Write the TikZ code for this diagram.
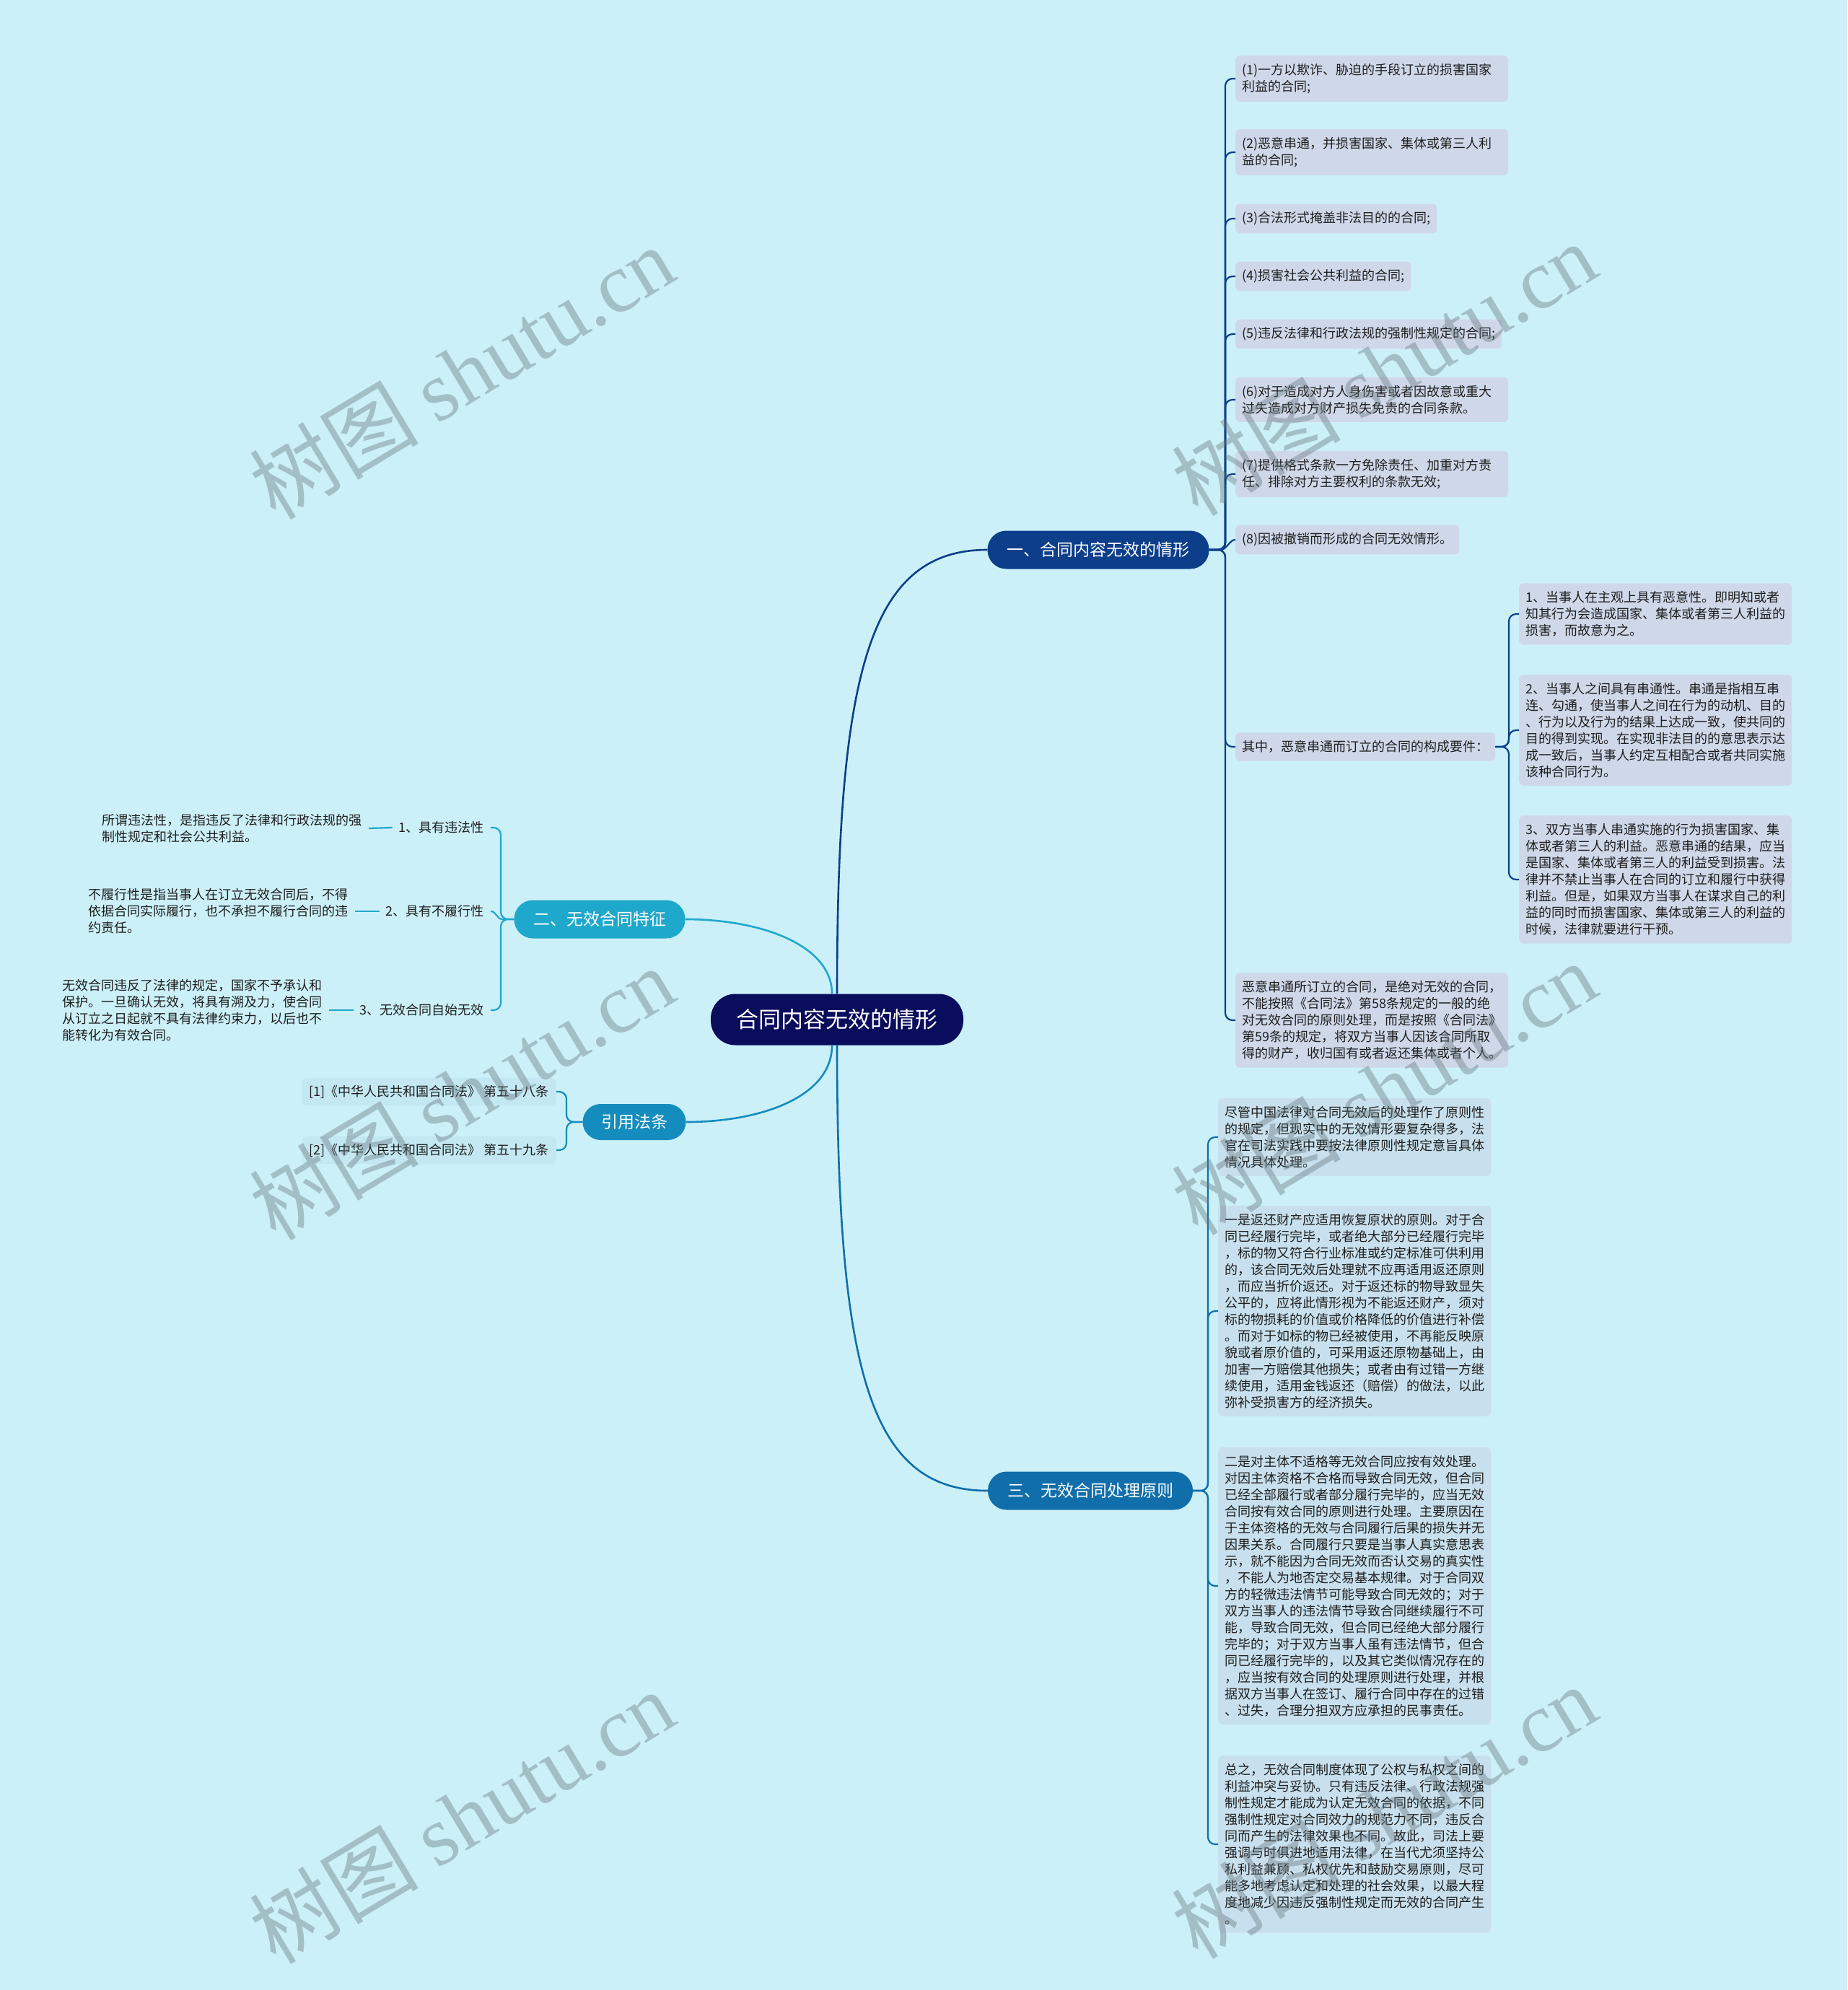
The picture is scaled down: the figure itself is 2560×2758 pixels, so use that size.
\documentclass[tikz,border=0pt]{standalone}
\usepackage{fontspec}
\setmainfont{Noto Sans CJK SC}
\newfontfamily\wmfont{Liberation Serif}
\usetikzlibrary{calc}
\definecolor{bg}{RGB}{204,240,248}
\definecolor{ctrc}{RGB}{10,12,92}
\definecolor{c1c}{RGB}{12,62,138}
\definecolor{c2c}{RGB}{30,168,204}
\definecolor{c3c}{RGB}{16,110,170}
\definecolor{crc}{RGB}{20,140,190}
\definecolor{boxa}{RGB}{207,216,233}
\definecolor{boxc}{RGB}{200,224,237}
\definecolor{boxr}{RGB}{196,232,242}
\definecolor{txt}{RGB}{30,30,30}
\definecolor{wm}{RGB}{100,118,125}
\newcommand{\fsa}{\fontsize{18}{23}\selectfont}
\newcommand{\fsb}{\fontsize{23}{26}\selectfont}
\newcommand{\fsc}{\fontsize{31}{34}\selectfont}
\newcommand{\fsw}{\fontsize{117}{117}\selectfont}
\begin{document}
\begin{tikzpicture}[x=1pt,y=-1pt,
 leafa/.style={fill=boxa, rounded corners=6, inner xsep=9, inner ysep=11, align=left, anchor=west, font=\fsa, text=txt},
 leafaw/.style={leafa, text width=360},
 leafc/.style={leafaw, fill=boxc},
 lab/.style={inner xsep=9, inner ysep=6, align=left, font=\fsa, text=txt, anchor=east},
 desc/.style={lab, text width=360},
 refb/.style={fill=boxr, rounded corners=6, inner xsep=10, inner ysep=10, anchor=east, font=\fsa, text=txt},
 brn/.style={rounded corners=26, minimum height=53, text=white, font=\fsb, inner sep=0},
 la/.style={draw=c1c, line width=2.2},
 lb/.style={draw=c2c, line width=2.2},
 lc/.style={draw=c3c, line width=2.2},
 lr/.style={draw=crc, line width=2.2},
 brk/.style={rounded corners=10},
 wmk/.style={text=wm, opacity=0.4, rotate=31, font=\fsw}
]
\fill[bg] (0,0) rectangle (2560,2758);
\useasboundingbox (0,0) rectangle (2560,2758);

% central and main branches
\node[fill=ctrc, rounded corners=34, minimum width=350, minimum height=71, text=white, font=\fsc, inner sep=0] (ctr) at (1160,1413) {合同内容无效的情形};
\node[brn, fill=c1c, minimum width=307] (b1) at (1522,762) {一、合同内容无效的情形};
\node[brn, fill=c2c, minimum width=237] (b2) at (831,1274) {二、无效合同特征};
\node[brn, fill=c3c, minimum width=284] (b3) at (1511,2066) {三、无效合同处理原则};
\node[brn, fill=crc, minimum width=143, minimum height=50, rounded corners=25] (bref) at (879,1555) {引用法条};

% branch one leaves
\node[leafaw] (c1) at (1712,109) {(1)一方以欺诈、胁迫的手段订立的损害国家\\利益的合同;};
\node[leafaw] (c2) at (1712,211) {(2)恶意串通，并损害国家、集体或第三人利\\益的合同;};
\node[leafa] (c3) at (1712,303) {(3)合法形式掩盖非法目的的合同;};
\node[leafa] (c4) at (1712,383) {(4)损害社会公共利益的合同;};
\node[leafa] (c5) at (1712,463) {(5)违反法律和行政法规的强制性规定的合同;};
\node[leafaw] (c6) at (1712,554) {(6)对于造成对方人身伤害或者因故意或重大\\过失造成对方财产损失免责的合同条款。};
\node[leafaw] (c7) at (1712,657) {(7)提供格式条款一方免除责任、加重对方责\\任、排除对方主要权利的条款无效;};
\node[leafa] (c8) at (1712,748) {(8)因被撤销而形成的合同无效情形。};
\node[leafa] (c9) at (1712,1035) {其中，恶意串通而订立的合同的构成要件：};
\node[leafaw] (c10) at (1712,1414) {恶意串通所订立的合同，是绝对无效的合同，\\不能按照《合同法》第58条规定的一般的绝\\对无效合同的原则处理，而是按照《合同法》\\第59条的规定，将双方当事人因该合同所取\\得的财产，收归国有或者返还集体或者个人。};

\node[leafaw] (s1) at (2105,851) {1、当事人在主观上具有恶意性。即明知或者\\知其行为会造成国家、集体或者第三人利益的\\损害，而故意为之。};
\node[leafaw] (s2) at (2105,1012) {2、当事人之间具有串通性。串通是指相互串\\连、勾通，使当事人之间在行为的动机、目的\\、行为以及行为的结果上达成一致，使共同的\\目的得到实现。在实现非法目的的意思表示达\\成一致后，当事人约定互相配合或者共同实施\\该种合同行为。};
\node[leafaw] (s3) at (2105,1219) {3、双方当事人串通实施的行为损害国家、集\\体或者第三人的利益。恶意串通的结果，应当\\是国家、集体或者第三人的利益受到损害。法\\律并不禁止当事人在合同的订立和履行中获得\\利益。但是，如果双方当事人在谋求自己的利\\益的同时而损害国家、集体或第三人的利益的\\时候，法律就要进行干预。};

% branch three leaves
\node[leafc] (d1) at (1688,1576) {尽管中国法律对合同无效后的处理作了原则性\\的规定，但现实中的无效情形要复杂得多，法\\官在司法实践中要按法律原则性规定意旨具体\\情况具体处理。};
\node[leafc] (d2) at (1688,1817) {一是返还财产应适用恢复原状的原则。对于合\\同已经履行完毕，或者绝大部分已经履行完毕\\，标的物又符合行业标准或约定标准可供利用\\的，该合同无效后处理就不应再适用返还原则\\，而应当折价返还。对于返还标的物导致显失\\公平的，应将此情形视为不能返还财产，须对\\标的物损耗的价值或价格降低的价值进行补偿\\。而对于如标的物已经被使用，不再能反映原\\貌或者原价值的，可采用返还原物基础上，由\\加害一方赔偿其他损失；或者由有过错一方继\\续使用，适用金钱返还（赔偿）的做法，以此\\弥补受损害方的经济损失。};
\node[leafc] (d3) at (1688,2198) {二是对主体不适格等无效合同应按有效处理。\\对因主体资格不合格而导致合同无效，但合同\\已经全部履行或者部分履行完毕的，应当无效\\合同按有效合同的原则进行处理。主要原因在\\于主体资格的无效与合同履行后果的损失并无\\因果关系。合同履行只要是当事人真实意思表\\示，就不能因为合同无效而否认交易的真实性\\，不能人为地否定交易基本规律。对于合同双\\方的轻微违法情节可能导致合同无效的；对于\\双方当事人的违法情节导致合同继续履行不可\\能，导致合同无效，但合同已经绝大部分履行\\完毕的；对于双方当事人虽有违法情节，但合\\同已经履行完毕的，以及其它类似情况存在的\\，应当按有效合同的处理原则进行处理，并根\\据双方当事人在签订、履行合同中存在的过错\\、过失，合理分担双方应承担的民事责任。};
\node[leafc] (d4) at (1688,2556) {总之，无效合同制度体现了公权与私权之间的\\利益冲突与妥协。只有违反法律、行政法规强\\制性规定才能成为认定无效合同的依据，不同\\强制性规定对合同效力的规范力不同，违反合\\同而产生的法律效果也不同。故此，司法上要\\强调与时俱进地适用法律，在当代尤须坚持公\\私利益兼顾、私权优先和鼓励交易原则，尽可\\能多地考虑认定和处理的社会效果，以最大程\\度地减少因违反强制性规定而无效的合同产生\\。};

% branch two leaves
\node[lab] (L1) at (680,1147) {1、具有违法性};
\node[lab] (L2) at (680,1263) {2、具有不履行性};
\node[lab] (L3) at (680,1400) {3、无效合同自始无效};
\node[desc] (D1) at (511,1148) {所谓违法性，是指违反了法律和行政法规的强\\制性规定和社会公共利益。};
\node[desc] (D2) at (492,1263) {不履行性是指当事人在订立无效合同后，不得\\依据合同实际履行，也不承担不履行合同的违\\约责任。};
\node[desc] (D3) at (456,1400) {无效合同违反了法律的规定，国家不予承认和\\保护。一旦确认无效，将具有溯及力，使合同\\从订立之日起就不具有法律约束力，以后也不\\能转化为有效合同。};

% references
\node[refb] (r1) at (771,1513) {[1]《中华人民共和国合同法》 第五十八条};
\node[refb] (r2) at (771,1594) {[2]《中华人民共和国合同法》 第五十九条};

% central connectors
\draw[la, line width=2.6] (ctr.north) .. controls (1160,930) and (1205,762) .. (b1.west);
\draw[lc, line width=2.6] (ctr.south) .. controls (1160,1900) and (1205,2066) .. (b3.west);
\draw[lb, line width=2.6] ($(ctr.north)+(-7,0)$) .. controls (1153,1310) and (1055,1274) .. (b2.east);
\draw[lr, line width=2.6] ($(ctr.south)+(-7,0)$) .. controls (1153,1520) and (1055,1555) .. (bref.east);

% branch one brackets
\foreach \n in {c1,c2,c3,c4,c5,c6,c7,c9,c10}
  \draw[la,brk] (b1.east) -| ($(\n.west)+(-14,0)$) -- (\n.west);
\draw[la] (b1.east) -- ++(16,0) .. controls +(8,0) and +(-8,0) .. (c8.west);
\foreach \n in {s1,s2,s3}
  \draw[la,brk] (c9.east) -| ($(\n.west)+(-14,0)$) -- (\n.west);

% branch three brackets
\foreach \n in {d1,d2,d3,d4}
  \draw[lc,brk] (b3.east) -| ($(\n.west)+(-14,0)$) -- (\n.west);

% branch two brackets
\foreach \n in {L1,L3}
  \draw[lb,brk] (b2.west) -| ($(\n.east)+(14,0)$) -- (\n.east);
\draw[lb] (b2.west) -- ++(-16,0) .. controls +(-8,0) and +(8,0) .. (L2.east);
\draw[lb] (D1.east) -- (L1.west);
\draw[lb] (D2.east) -- (L2.west);
\draw[lb] (D3.east) -- (L3.west);

% reference brackets
\foreach \n in {r1,r2}
  \draw[lr,brk] (bref.west) -| ($(\n.east)+(14,0)$) -- (\n.east);

% watermarks
\foreach \p/\q in {640/516, 1918/511, 640/1515, 1918/1508, 640/2518, 1918/2511}
  \node[wmk] (w\p\q) at (\p,\q) {树图 {\wmfont shutu.cn}};
\end{tikzpicture}
\end{document}
